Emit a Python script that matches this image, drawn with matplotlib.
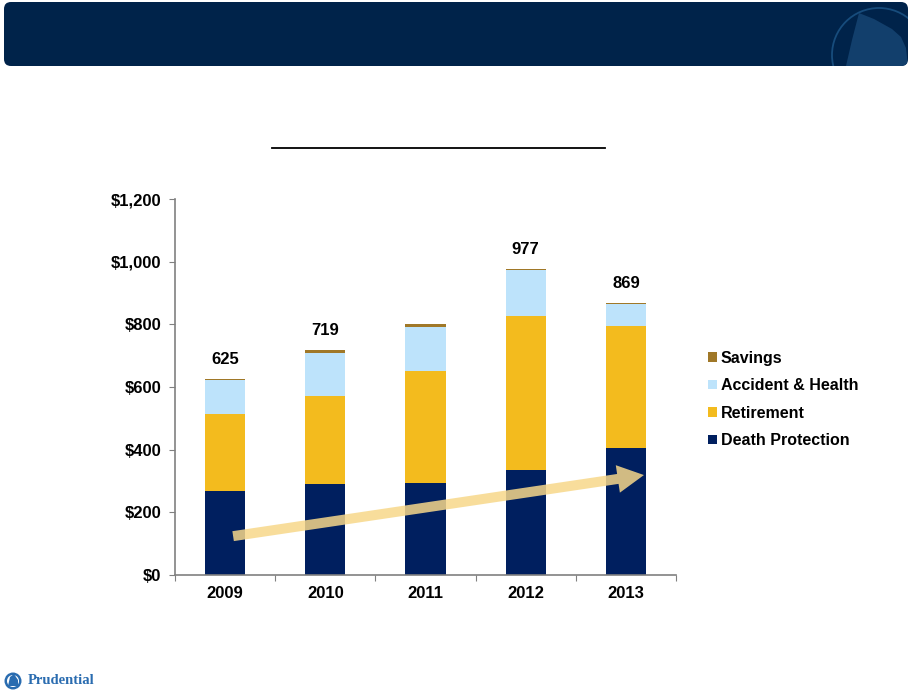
import numpy as np
import matplotlib
matplotlib.use("Agg")
import matplotlib.pyplot as plt
from matplotlib.patches import FancyBboxPatch, Circle, Polygon

plt.rcParams['font.family'] = ['Liberation Sans', 'DejaVu Sans']

###############################################################################

years = ["2009", "2010", "2011", "2012", "2013"]
death = [269, 291, 294, 335, 406]
retirement = [244, 281, 357, 491, 390]
accident = [109, 138, 141, 148, 68]
savings = [3, 9, 8, 3, 5]
totals = [625, 719, None, 977, 869]
y_ticks = [0, 200, 400, 600, 800, 1000, 1200]

NAVY = "#001F5F"
GOLD = "#F3BB1E"
LIGHT = "#BDE3FB"
BROWN = "#A07828"

###############################################################################

fig = plt.figure(figsize=(9.1, 6.93), dpi=100)

# slide decoration in pixel coordinates
bg = fig.add_axes([0, 0, 1, 1])
bg.set_xlim(0, 910)
bg.set_ylim(693, 0)
bg.axis("off")
header = FancyBboxPatch((4, 2), 904, 64, boxstyle="round,pad=0,rounding_size=7",
                        fc="#00234A", ec="none")
bg.add_patch(header)
logo_ring = Circle((879, 55), 47, fc="none", ec="#174C7C", lw=1.3)
bg.add_patch(logo_ring)
logo_ring.set_clip_path(header)
rock = Polygon([(846, 66), (852, 40), (859, 13), (874, 19), (892, 29),
                (901, 37), (906, 48), (908, 66)], closed=True, fc="#123F6C", ec="none")
bg.add_patch(rock)
rock.set_clip_path(header)
bg.plot([272, 605], [148, 148], color="black", lw=1.3)
bg.add_patch(Circle((13, 681), 8.5, fc="#2A6CB0", ec="none"))
bg.add_patch(Circle((13, 681), 6, fc="white", ec="none"))
bg.add_patch(Polygon([(8, 686), (10, 677), (14, 674), (18, 680), (18, 686)],
                     closed=True, fc="#2A6CB0", ec="none"))
bg.text(28, 681, "Prudential", family="Liberation Serif", fontweight="bold",
        fontsize=10.5, color="#2A6CB0", va="center", ha="left")

###############################################################################

ax = fig.add_axes([175/910, 118/693, 501/910, 376/693])
x = np.arange(len(years))
w = 0.4
death = np.array(death)
retirement = np.array(retirement)
accident = np.array(accident)
savings = np.array(savings)

b1 = ax.bar(x, death, w, color=NAVY, label="Death Protection")
b2 = ax.bar(x, retirement, w, bottom=death, color=GOLD, label="Retirement")
b3 = ax.bar(x, accident, w, bottom=death+retirement, color=LIGHT, label="Accident & Health")
b4 = ax.bar(x, savings, w, bottom=death+retirement+accident, color=BROWN, label="Savings")

tops = death + retirement + accident + savings
for i, t in enumerate(totals):
    if t is not None:
        ax.text(x[i], tops[i] + 38, str(t), ha="center", va="bottom",
                fontsize=12, fontweight="bold")

ax.annotate("", xy=(4.18, 319), xytext=(0.08, 124),
            arrowprops=dict(arrowstyle="simple,head_length=0.95,head_width=1.0,tail_width=0.36",
                            mutation_scale=20, fc="#F7D88A", ec="none", alpha=0.85,
                            shrinkA=0, shrinkB=0), zorder=5)

ax.set_xlim(-0.5, 4.5)
ax.set_ylim(0, 1200)
ax.set_yticks(y_ticks)
ax.set_yticklabels(["${:,}".format(v) for v in y_ticks])
ax.set_xticks(np.arange(-0.5, 5, 1))
ax.set_xticklabels([])
ax.set_xticks(x, minor=True)
ax.set_xticklabels(years, minor=True)
ax.tick_params(axis="x", which="minor", length=0, pad=8, labelsize=12)
ax.tick_params(axis="x", which="major", length=4, color="#808080", direction="out")
ax.tick_params(axis="y", length=4, color="#808080", direction="out", pad=6, labelsize=12)
for lbl in ax.get_xticklabels(minor=True) + ax.get_yticklabels():
    lbl.set_fontweight("bold")
for s in ["top", "right"]:
    ax.spines[s].set_visible(False)
for s in ["left", "bottom"]:
    ax.spines[s].set_color("#808080")
    ax.spines[s].set_linewidth(1.2)

leg = ax.legend(handles=[b4, b3, b2, b1], loc="upper left", bbox_to_anchor=(1.035, 0.635),
                frameon=False, handlelength=0.55, handleheight=0.55, handletextpad=0.25,
                labelspacing=0.78, prop=dict(weight="bold", size=11.5))

fig.savefig("out.png", dpi=100)
